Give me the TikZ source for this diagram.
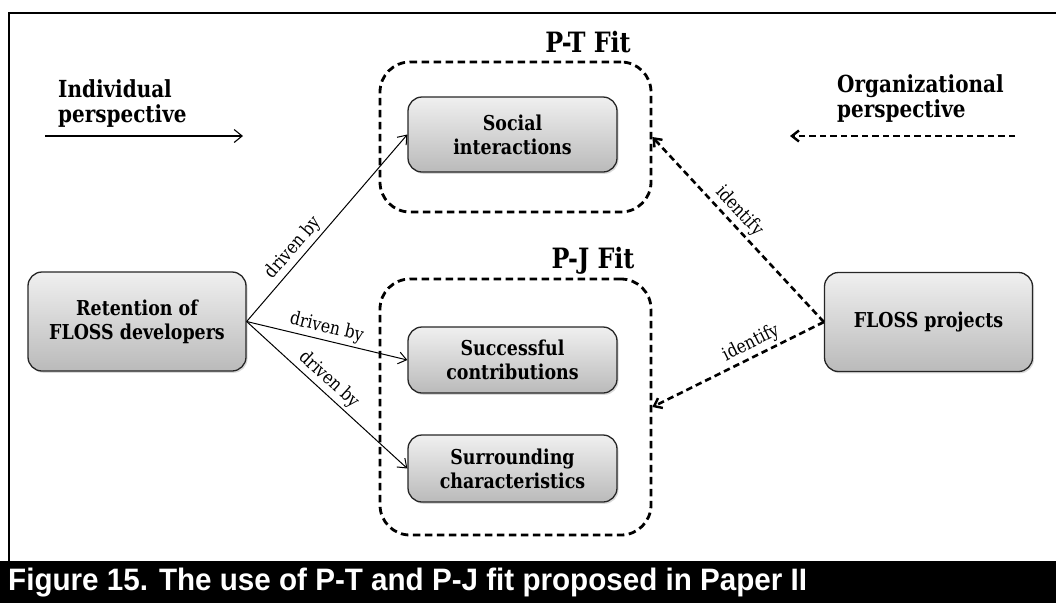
\documentclass[tikz,border=0pt]{standalone}
\usepackage{fontspec}
\setmainfont{DejaVu Serif}[FakeStretch=0.85]
\newfontfamily\capfont{Liberation Sans}[FakeStretch=0.955]
\usetikzlibrary{arrows.meta,shadows}

\begin{document}
\begin{tikzpicture}[x=1pt,y=-1pt,
  box/.style={draw=black!85, line width=1.3pt, rounded corners=14pt,
    top color=black!6, bottom color=black!27, align=center, inner sep=0pt,
    font=\fontsize{20.5}{24}\selectfont\bfseries,
    drop shadow={shadow xshift=1.5pt,shadow yshift=-1.8pt,opacity=0.3}},
  fitbox/.style={draw, line width=2.8pt, dash pattern=on 7.5pt off 4.5pt,
    rounded corners=30pt, inner sep=0pt},
  fitlabel/.style={font=\fontsize{28}{30}\selectfont\bfseries},
  persp/.style={font=\fontsize{23.5}{25}\selectfont\bfseries, align=left,
    anchor=west, inner sep=0pt},
  drive/.style={-{Straight Barb[length=8pt,width=12pt]}, line width=1pt},
  ident/.style={-{Straight Barb[length=7pt,width=11pt,line width=2.4pt]},
    line width=2.6pt, dash pattern=on 6.5pt off 4pt},
  elabel/.style={font=\fontsize{18.5}{18.5}\selectfont, sloped, above, inner sep=3pt}
]
\useasboundingbox (0,0) rectangle (1056,603);

% frame and caption bar
\draw[line width=2.3pt] (1056,13.3) -- (9,13.3) -- (9,562);
\fill[black] (0,561) rectangle (1056,603);
\node[anchor=base west, inner sep=0pt, text=white,
  font=\capfont\fontsize{31}{31}\selectfont\bfseries] (cap) at (8,590)
  {Figure 15. The use of P-T and P-J fit proposed in Paper II};

% perspective labels and arrows
\node[persp] (indiv) at (58,104) {Individual\\perspective};
\node[persp] (orgn) at (837,99) {Organizational\\perspective};
\coordinate (ia) at (45,136);
\coordinate (ib) at (243,136);
\coordinate (oa) at (1015,136);
\coordinate (ob) at (790,136);
\draw[-{Straight Barb[length=8pt,width=13pt]}, line width=1.1pt] (ia) -- (ib);
\draw[ident] (oa) -- (ob);

% fit groups
\node[fitbox, minimum width=271pt, minimum height=150pt] (ptbox) at (515.5,137) {};
\node[fitbox, minimum width=271pt, minimum height=256pt] (pjbox) at (515.5,407) {};
\node[fitlabel] (ptlab) at (588,42) {P-T Fit};
\node[fitlabel] (pjlab) at (593,261) {P-J Fit};

% boxes
\node[box, minimum width=218pt, minimum height=99pt] (ret) at (137,321.5)
  {Retention of\\FLOSS developers};
\node[box, minimum width=208pt, minimum height=99pt] (proj) at (928.5,322)
  {FLOSS projects};
\node[box, minimum width=209pt, minimum height=75pt] (soc) at (512.5,134.5)
  {Social\\interactions};
\node[box, minimum width=209pt, minimum height=66pt] (succ) at (512.5,360)
  {Successful\\contributions};
\node[box, minimum width=209pt, minimum height=67pt] (surr) at (512.5,468.5)
  {Surrounding\\characteristics};

% connectors
\draw[drive] (ret.east) -- node[elabel, pos=0.35] {driven by} (soc.west);
\draw[drive] (ret.east) -- node[elabel, pos=0.48] {driven by} (succ.west);
\draw[drive] (ret.east) -- node[elabel, pos=0.46] {driven by} (surr.west);
\draw[ident] (proj.west) -- node[elabel, pos=0.55] {identify} (ptbox.east);
\draw[ident] (proj.west) -- node[elabel, pos=0.39] {identify} (pjbox.east);
\end{tikzpicture}
\end{document}
